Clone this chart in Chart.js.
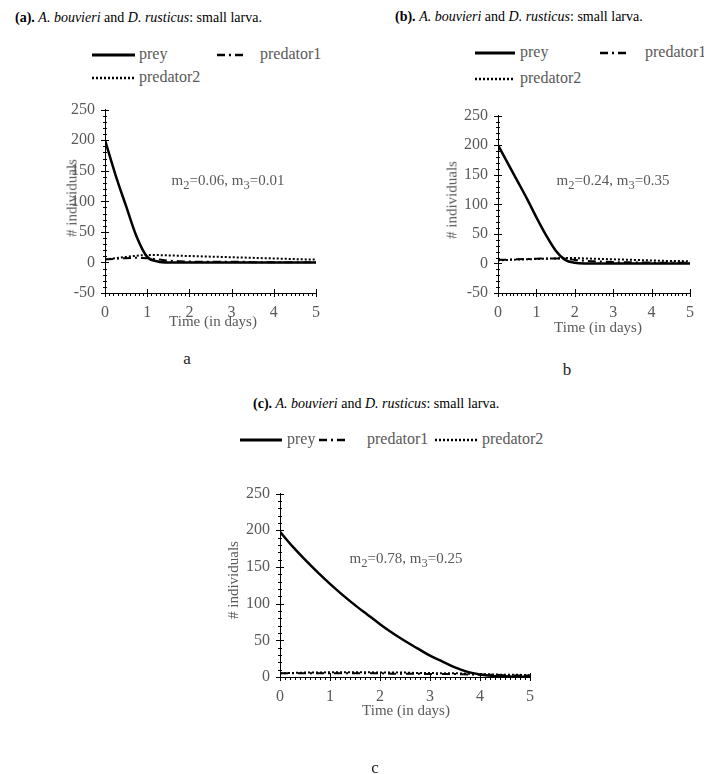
<!DOCTYPE html>
<html>
<head>
<meta charset="utf-8">
<script src="https://cdn.jsdelivr.net/npm/chart.js@4.4.1/dist/chart.umd.min.js"></script>
<style>
  body { margin: 0; background: #fff; }
  #page { position: relative; width: 704px; height: 774px; overflow: hidden; background: #fff; font-family: "Liberation Serif", serif; }
  canvas { position: absolute; }
  .t { position: absolute; white-space: nowrap; }
  .title { font-size: 14px; color: #000; transform: translateY(-50%); }
  .gray { color: #595959; font-size: 15px; }
  .ctr { transform: translate(-50%, -50%); }
  .rot { transform: translate(-50%, -50%) rotate(-90deg); }
  .lab { font-size: 17px; color: #222; transform: translate(-50%, -50%); }
  .leg { font-size: 16px; color: #595959; transform: translateY(-55%); }
  svg { position: absolute; overflow: visible; }
</style>
</head>
<body>
<div id="page">
  <div class="t title" style="left:15px;top:18px"><b>(a).</b> <i>A. bouvieri</i> and <i>D. rusticus</i>: small larva.</div>
  <div class="t title" style="left:395px;top:17px"><b>(b).</b> <i>A. bouvieri</i> and <i>D. rusticus</i>: small larva.</div>
  <div class="t title" style="left:253px;top:404px"><b>(c).</b> <i>A. bouvieri</i> and <i>D. rusticus</i>: small larva.</div>

  <canvas id="chartA" width="290" height="230" style="left:40px;top:90px"></canvas>
  <canvas id="chartB" width="274" height="225" style="left:430px;top:96px"></canvas>
  <canvas id="chartC" width="330" height="230" style="left:215px;top:474px"></canvas>

  <div class="t gray ctr" style="left:213px;top:321px">Time (in days)</div>
  <div class="t gray rot" style="left:72px;top:198px"># individuals</div>
  <div class="t gray ctr" style="left:228px;top:182px">m<sub>2</sub>=0.06, m<sub>3</sub>=0.01</div>

  <div class="t gray ctr" style="left:598px;top:327px">Time (in days)</div>
  <div class="t gray rot" style="left:452px;top:200px"># individuals</div>
  <div class="t gray ctr" style="left:613px;top:182px">m<sub>2</sub>=0.24, m<sub>3</sub>=0.35</div>

  <div class="t gray ctr" style="left:406px;top:710px">Time (in days)</div>
  <div class="t gray rot" style="left:233px;top:580px"># individuals</div>
  <div class="t gray ctr" style="left:406px;top:560px">m<sub>2</sub>=0.78, m<sub>3</sub>=0.25</div>

  <div class="t lab" style="left:187px;top:359px">a</div>
  <div class="t lab" style="left:567px;top:370px">b</div>
  <div class="t lab" style="left:375px;top:768px">c</div>
</div>
<script>
// time points (days)
const times = [0, 0.25, 0.5, 0.75, 1, 1.25, 1.5, 1.75, 2, 2.25, 2.5, 2.75, 3, 3.25, 3.5, 3.75, 4, 4.25, 4.5, 4.75, 5];
const seriesNames = ["prey", "predator1", "predator2"];

// (a) m2=0.06, m3=0.01
const preyA = [200, 143, 92, 42, 9, 1.5, 0, 0, 0, 0, 0, 0, 0, 0, 0, 0, 0, 0, 0, 0, 0];
const pred1A = [5, 6, 7, 7.5, 7, 5, 3, 2, 1.5, 1, 1, 1, 1, 1, 0.5, 0.5, 0.5, 0.5, 0.5, 0.5, 0.5];
const pred2A = [5, 7, 9, 11, 12, 12, 11.5, 11, 10.5, 10, 9.5, 9, 8.5, 8, 7.5, 7, 6.5, 6, 5.5, 5, 5];

// (b) m2=0.24, m3=0.35
const preyB = [200, 170, 140, 110, 78, 48, 22, 6, 1, 0, 0, 0, 0, 0, 0, 0, 0, 0, 0, 0, 0];
const pred1B = [6, 6.5, 7, 7.5, 8, 8.5, 8.5, 8, 6, 4.5, 3.5, 3, 2.5, 2, 2, 1.5, 1.5, 1, 1, 1, 1];
const pred2B = [5, 6, 6.5, 7, 7.5, 8, 8.5, 9, 9, 8.5, 8, 7.5, 7, 6.5, 6, 5.5, 5, 4.5, 4, 4, 3.5];

// (c) m2=0.78, m3=0.25
const preyC = [198, 178, 160, 143, 127, 112, 98, 85, 72, 60, 49, 39, 29, 21, 13, 7, 3.5, 1.5, 1, 0.5, 0.5];
const pred1C = [5, 5, 5, 5, 5, 5, 5, 5, 5, 4.5, 4.5, 4.5, 4, 4, 4, 3.5, 3, 3, 2.5, 2, 2];
const pred2C = [5, 5.5, 6, 6, 6.5, 6.5, 6.5, 6.5, 6, 6, 6, 5.5, 5.5, 5, 5, 4.5, 4, 3.5, 3, 3, 2.5];

// line styles per series
const seriesDash = [[], [8, 4, 2, 4], [2, 2]];
const seriesWidth = [2.5, 2, 2];

// draws cross major ticks and small minor ticks on both axes
const minorTicksPlugin = {
    id: "minorTicks",
    afterDraw(chart, args, opts) {
        const ctx = chart.ctx;
        const xs = chart.scales.x, ys = chart.scales.y;
        const area = chart.chartArea;
        ctx.save();
        ctx.strokeStyle = "#000";
        ctx.lineWidth = 1;
        ctx.beginPath();
        const nx = Math.round((xs.max - xs.min) / opts.xMinor);
        for (let i = 0; i <= nx; i++) {
            const v = xs.min + i * opts.xMinor;
            const px = Math.round(xs.getPixelForValue(v)) + 0.5;
            const major = i % Math.round(opts.xMajor / opts.xMinor) === 0;
            ctx.moveTo(px, area.bottom - (major ? 4 : 0));
            ctx.lineTo(px, area.bottom + (major ? 4 : 3));
        }
        const ny = Math.round((ys.max - ys.min) / opts.yMinor);
        for (let i = 0; i <= ny; i++) {
            const v = ys.min + i * opts.yMinor;
            const py = Math.round(ys.getPixelForValue(v)) + 0.5;
            const major = i % Math.round(opts.yMajor / opts.yMinor) === 0;
            ctx.moveTo(area.left - (major ? 4 : 2), py);
            ctx.lineTo(area.left + (major ? 4 : 2), py);
        }
        ctx.stroke();
        ctx.restore();
    }
};

function build_datasets(values) {
    return values.map((vals, i) => ({
        label: seriesNames[i],
        data: times.map((t, j) => ({ x: t, y: vals[j] })),
        borderColor: "#000",
        borderWidth: seriesWidth[i],
        borderDash: seriesDash[i],
        pointRadius: 0,
        fill: false,
        cubicInterpolationMode: "monotone",
    }));
}

function build_config(values, yMin, pad, yWidth, xHeight) {
    const tickFont = { family: "'Liberation Serif', serif", size: 16 };
    return {
        type: "line",
        data: { datasets: build_datasets(values) },
        options: {
            responsive: false,
            animation: false,
            layout: { padding: pad },
            plugins: {
                legend: { display: false },
                tooltip: { enabled: false },
                minorTicks: { xMinor: 0.1, xMajor: 1, yMinor: 10, yMajor: 50 },
            },
            scales: {
                x: {
                    type: "linear", min: 0, max: 5,
                    grid: { display: false, drawTicks: false },
                    border: { display: true, color: "#000", width: 1 },
                    ticks: { stepSize: 1, color: "#595959", font: tickFont, padding: 10, maxRotation: 0 },
                    afterFit: (s) => { s.height = xHeight; },
                },
                y: {
                    min: yMin, max: 250,
                    grid: { display: false, drawTicks: false },
                    border: { display: true, color: "#000", width: 1 },
                    ticks: { stepSize: 50, color: "#595959", font: tickFont, padding: 10 },
                    afterFit: (s) => { s.width = yWidth; },
                },
            },
        },
        plugins: [minorTicksPlugin],
    };
}

// html legend with drawn line samples
function add_legend_item(idx, lineX, lineLen, y, textX) {
    const page = document.getElementById("page");
    const ns = "http://www.w3.org/2000/svg";
    const svg = document.createElementNS(ns, "svg");
    svg.setAttribute("width", lineLen);
    svg.setAttribute("height", 6);
    svg.style.left = lineX + "px";
    svg.style.top = (y - 3) + "px";
    const line = document.createElementNS(ns, "line");
    line.setAttribute("x1", 0); line.setAttribute("y1", 3);
    line.setAttribute("x2", lineLen); line.setAttribute("y2", 3);
    line.setAttribute("stroke", "#000");
    line.setAttribute("stroke-width", seriesWidth[idx] + 0.5);
    if (seriesDash[idx].length) line.setAttribute("stroke-dasharray", seriesDash[idx].join(","));
    svg.appendChild(line);
    page.appendChild(svg);
    const txt = document.createElement("div");
    txt.className = "t leg";
    txt.style.left = textX + "px";
    txt.style.top = y + "px";
    txt.textContent = seriesNames[idx];
    page.appendChild(txt);
}

new Chart("chartA", build_config([preyA, pred1A, pred2A], -50, { top: 11, right: 12, left: 0, bottom: 0 }, 65, 27));
new Chart("chartB", build_config([preyB, pred1B, pred2B], -50, { top: 11, right: 7, left: 0, bottom: 0 }, 68, 28));
new Chart("chartC", build_config([preyC, pred1C, pred2C], 0, { top: 11, right: 15, left: 0, bottom: 0 }, 65, 27));

add_legend_item(0, 92, 43, 55, 139);
add_legend_item(1, 217, 26, 55, 260);
add_legend_item(2, 92, 43, 78, 139);

add_legend_item(0, 475, 40, 53, 520);
add_legend_item(1, 600, 26, 53, 645);
add_legend_item(2, 475, 40, 79, 520);

add_legend_item(0, 240, 42, 440, 287);
add_legend_item(1, 319, 26, 440, 367);
add_legend_item(2, 435, 42, 440, 482);
</script>
</body>
</html>
